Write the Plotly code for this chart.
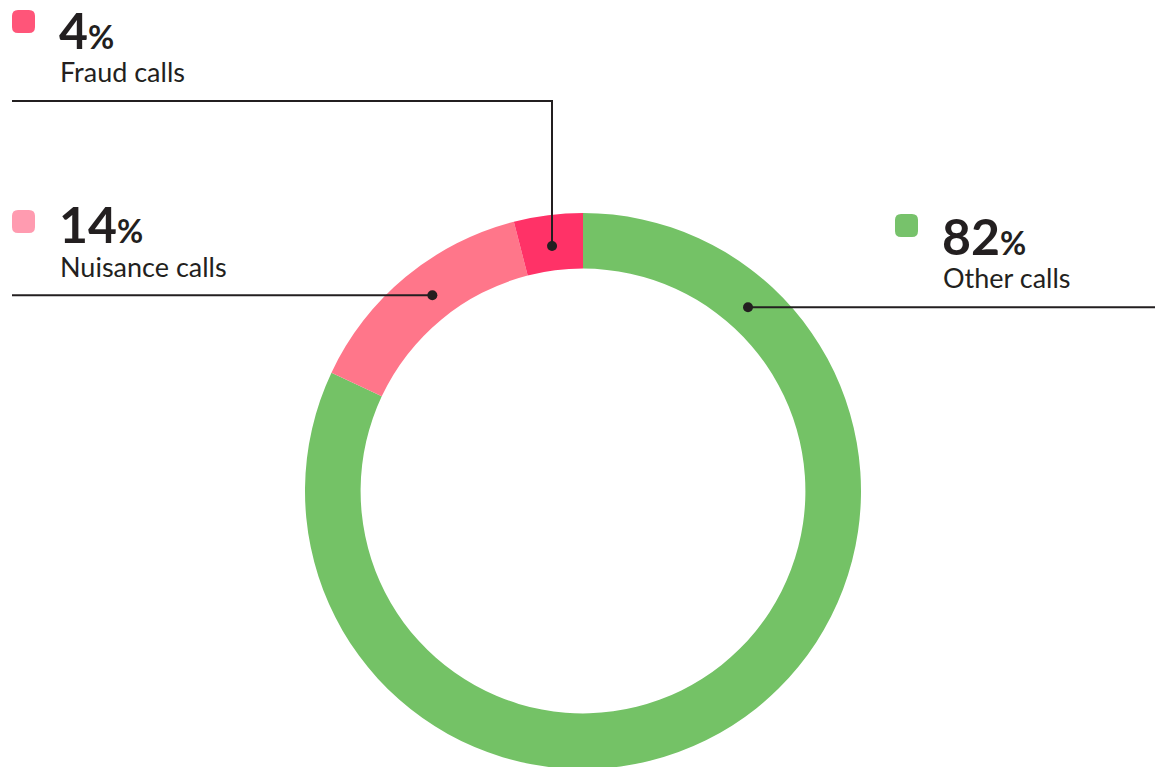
import math
import plotly.graph_objects as go

# Data
labels = ["Other calls", "Nuisance calls", "Fraud calls"]
values = [82, 14, 4]
slice_colors = ["#74C266", "#FF768A", "#FF3267"]
swatch_colors = ["#77C26B", "#FF9BB0", "#FF5579"]

W, H = 1163, 767
OFF = 8  # page body margin
FONT = "Lato"
INK = "#231F20"

# pie geometry (page pixels)
cx, cy, R = 583, 491, 278
top_px = cy - R - OFF
bot_px = cy + R - OFF
pie_dom_x = [(cx - R - OFF) / W, (cx + R - OFF) / W]
pie_dom_y = [1 - bot_px / H, 1 - top_px / H]

fig = go.Figure()
fig.add_trace(go.Pie(
    labels=labels, values=values, sort=False, direction="clockwise", rotation=0,
    hole=0.8, marker=dict(colors=slice_colors, line=dict(width=0)),
    textinfo="none", hoverinfo="label+percent", showlegend=False,
    domain=dict(x=pie_dom_x, y=pie_dom_y),
))

# leader dot positions along each slice
pos_in_slice = [0.142, 0.54, 0.5]
r_dot = 247
total = sum(values)
start = 0
dots = []
for v, f in zip(values, pos_in_slice):
    ang = (start + f * v) / total * 2 * math.pi
    dots.append((cx + r_dot * math.sin(ang), cy - r_dot * math.cos(ang)))
    start += v

# leader line routes (label side)
routes = [
    [dots[0], (1157, dots[0][1])],
    [dots[1], (12, dots[1][1])],
    [dots[2], (dots[2][0], 101), (12, 101)],
]
shapes = []
for pts in routes:
    path = "M" + " L".join(f"{x:.1f},{y:.1f}" for x, y in pts)
    shapes.append(dict(type="path", path=path, xref="x", yref="y", layer="above",
                       line=dict(color=INK, width=2)))
for dx, dy in dots:
    shapes.append(dict(type="circle", xref="x", yref="y", layer="above",
                       x0=dx - 5, x1=dx + 5, y0=dy - 5, y1=dy + 5,
                       fillcolor=INK, line=dict(width=0)))

# label blocks: (swatch x, swatch top y, text x, percent y, name y)
blocks = [
    (895, 214, 943, 236, 277),
    (12, 210, 60, 224, 266),
    (12, 10, 60, 30, 71),
]
for (sx, sy, tx, py, ny), lab, val, col in zip(blocks, labels, values, swatch_colors):
    s, rr = 23, 6
    path = (f"M{sx+rr},{sy} L{sx+s-rr},{sy} Q{sx+s},{sy} {sx+s},{sy+rr} "
            f"L{sx+s},{sy+s-rr} Q{sx+s},{sy+s} {sx+s-rr},{sy+s} "
            f"L{sx+rr},{sy+s} Q{sx},{sy+s} {sx},{sy+s-rr} "
            f"L{sx},{sy+rr} Q{sx},{sy} {sx+rr},{sy} Z")
    shapes.append(dict(type="path", path=path, xref="x", yref="y",
                       fillcolor=col, line=dict(width=0)))
    fig.add_annotation(
        x=tx - 3, y=py, xref="x", yref="y", xanchor="left", yanchor="middle",
        showarrow=False, height=40, valign="middle",
        text=f"<b>{val}<span style='font-size:32px'>%</span></b>",
        font=dict(family=FONT, size=50, color=INK))
    fig.add_annotation(
        x=tx - 2, y=ny, xref="x", yref="y", xanchor="left", yanchor="middle",
        showarrow=False, text=lab,
        font=dict(family=FONT, size=27, color=INK))

fig.update_layout(
    width=W, height=H, margin=dict(l=0, r=0, t=0, b=0),
    paper_bgcolor="white", plot_bgcolor="rgba(0,0,0,0)",
    xaxis=dict(range=[OFF, W + OFF], visible=False, fixedrange=True),
    yaxis=dict(range=[H + OFF, OFF], visible=False, fixedrange=True),
    shapes=shapes, showlegend=False,
)

fig.write_html("out.html")
